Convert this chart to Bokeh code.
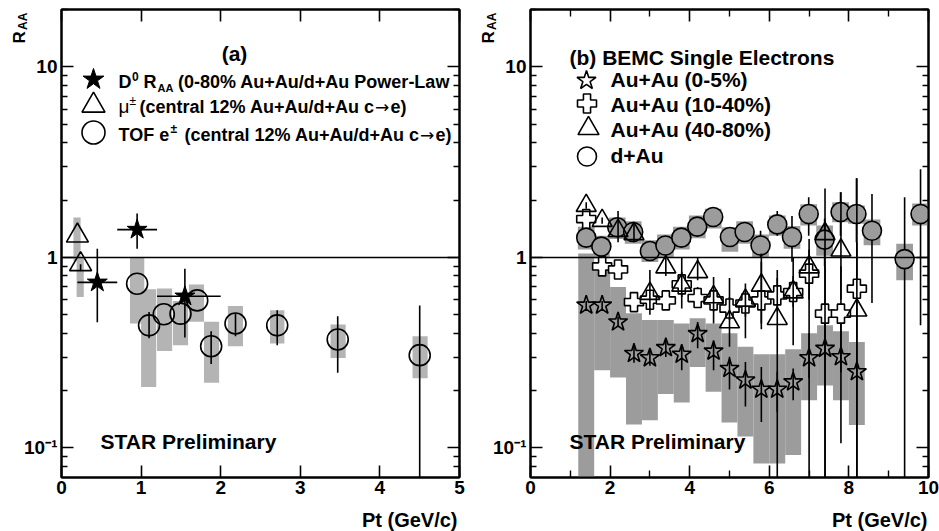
import math
from bokeh.plotting import figure
from bokeh.layouts import row
from bokeh.models import (Range1d, LogAxis, LinearAxis, FixedTicker, Span,
                          CustomJSTickFormatter)
from bokeh.core.properties import value
from bokeh.embed import file_html
from bokeh.resources import INLINE

FONT = "Liberation Sans"
SYM_FONT = "DejaVu Sans"

# ---------------- panel (a) data ----------------
d0_pt = [0.45, 0.95, 1.55]
d0_raa = [0.74, 1.40, 0.625]
d0_pt_lo = [0.20, 0.70, 1.20]
d0_pt_hi = [0.70, 1.20, 2.00]
d0_lo = [0.457, 1.11, 0.38]
d0_hi = [1.11, 1.70, 0.873]

mu_pt = [0.20, 0.24]
mu_raa = [1.30, 0.92]
mu_lo = [1.30, 0.86]
mu_hi = [1.30, 0.92]
mu_sys_left = [0.15, 0.19]
mu_sys_right = [0.24, 0.28]
mu_sys_lo = [0.96, 0.62]
mu_sys_hi = [1.62, 1.00]

tof_pt = [0.95, 1.10, 1.285, 1.495, 1.705, 1.88, 2.186, 2.71, 3.47, 4.50]
tof_raa = [0.728, 0.44, 0.503, 0.507, 0.595, 0.342, 0.45, 0.44, 0.371, 0.307]
tof_lo = [0.728, 0.377, 0.503, 0.507, 0.595, 0.276, 0.386, 0.346, 0.248, 0.01]
tof_hi = [0.728, 0.517, 0.503, 0.507, 0.595, 0.41, 0.507, 0.528, 0.491, 0.56]
tof_sys_left = [0.86, 1.00, 1.20, 1.40, 1.60, 1.79, 2.09, 2.62, 3.38, 4.41]
tof_sys_right = [1.04, 1.19, 1.39, 1.59, 1.79, 1.98, 2.28, 2.80, 3.57, 4.60]
tof_sys_lo = [0.45, 0.209, 0.323, 0.346, 0.46, 0.22, 0.342, 0.353, 0.297, 0.232]
tof_sys_hi = [1.00, 0.68, 0.686, 0.59, 0.72, 0.46, 0.556, 0.528, 0.444, 0.386]

# ---------------- panel (b) data ----------------
bemc_pt = [1.4, 1.8, 2.2, 2.6, 3.0, 3.4, 3.8, 4.2, 4.6, 5.0, 5.4, 5.8, 6.2, 6.6, 7.0, 7.4, 7.8, 8.2]

c05_raa = [0.561, 0.561, 0.458, 0.313, 0.297, 0.336, 0.31, 0.398, 0.322, 0.261, 0.227, 0.203,
           0.203, 0.222, 0.297, 0.333, 0.301, 0.251]
c05_lo = [0.53, 0.53, 0.43, 0.28, 0.27, 0.30, 0.256, 0.334, 0.256, 0.203, 0.165, 0.137,
          0.155, 0.178, 0.232, 0.01, 0.106, 0.01]
c05_hi = [0.59, 0.59, 0.49, 0.355, 0.33, 0.37, 0.346, 0.458, 0.368, 0.301, 0.283, 0.266,
          0.251, 0.261, 0.40, 0.50, 0.45, 0.40]
c05_sys_lo = [0.051, 0.256, 0.234, 0.133, 0.14, 0.192, 0.173, 0.266, 0.197, 0.136, 0.115, 0.083,
              0.083, 0.092, 0.178, 0.213, 0.178, 0.132]
c05_sys_hi = [1.05, 0.93, 0.70, 0.51, 0.47, 0.47, 0.45, 0.48, 0.45, 0.40, 0.34, 0.31,
              0.31, 0.33, 0.40, 0.44, 0.41, 0.36]

c1040_raa = [1.59, 0.897, 0.865, 0.583, 0.60, 0.595, 0.722, 0.612, 0.595, 0.539, 0.573, 0.595,
             0.632, 0.658, 0.822, 0.507, 0.507, 0.685]
c1040_lo = [1.5, 0.85, 0.78, 0.54, 0.55, 0.54, 0.62, 0.55, 0.52, 0.47, 0.49, 0.42,
            0.52, 0.55, 0.60, 0.30, 0.25, 0.40]
c1040_hi = [1.7, 0.95, 0.95, 0.63, 0.66, 0.66, 0.84, 0.70, 0.68, 0.62, 0.66, 0.95,
            0.78, 0.80, 1.10, 0.90, 0.90, 1.20]

c4080_raa = [1.87, 1.56, 1.38, 1.33, 0.646, 0.89, 0.714, 0.84, 0.62, 0.458, 0.595, 0.714,
             0.477, 0.658, 0.89, 1.33, 1.09, 0.528]
c4080_lo = [1.8, 1.5, 1.2, 1.2, 0.5, 0.8, 0.54, 0.76, 0.45, 0.34, 0.377, 0.45,
            0.01, 0.346, 0.01, 0.01, 0.6, 0.01]
c4080_hi = [1.95, 1.62, 1.75, 1.5, 0.86, 1.0, 1.0, 1.0, 0.79, 0.78, 0.73, 1.05,
            0.86, 1.0, 1.25, 2.3, 2.2, 2.6]

dau_pt = [1.40, 1.78, 2.18, 2.58, 3.00, 3.39, 3.79, 4.19, 4.59, 5.01, 5.38, 5.78, 6.20, 6.57,
          6.99, 7.39, 7.79, 8.19, 8.58, 9.40, 9.80]
dau_raa = [1.27, 1.14, 1.44, 1.36, 1.08, 1.155, 1.27, 1.45, 1.63, 1.28, 1.36, 1.155, 1.49, 1.28,
           1.69, 1.24, 1.73, 1.69, 1.38, 0.98, 1.69]
dau_lo = [1.22, 1.09, 1.35, 1.25, 1.02, 1.10, 1.21, 1.35, 1.55, 1.20, 1.27, 1.00, 1.30, 0.95,
          1.30, 0.90, 1.30, 1.20, 0.576, 0.01, 0.44]
dau_hi = [1.32, 1.19, 1.53, 1.48, 1.14, 1.21, 1.33, 1.56, 1.71, 1.37, 1.45, 1.38, 1.75, 1.65,
          2.07, 1.60, 2.20, 2.60, 2.15, 2.07, 2.90]
dau_sys_lo = [1.10, 0.99, 1.25, 1.18, 0.945, 1.00, 1.10, 1.26, 1.42, 1.07, 1.18, 1.00, 1.30, 1.11,
              1.47, 1.02, 1.53, 1.50, 1.16, 0.76, 1.47]
dau_sys_hi = [1.45, 1.30, 1.62, 1.55, 1.23, 1.32, 1.45, 1.66, 1.80, 1.44, 1.55, 1.32, 1.66, 1.46,
              1.90, 1.47, 1.95, 1.87, 1.58, 1.18, 1.92]

y_major = [0.1, 1, 10]
y_minor = [0.08, 0.09, 0.2, 0.3, 0.4, 0.5, 0.6, 0.7, 0.8, 0.9, 2, 3, 4, 5, 6, 7, 8, 9, 20]

# ---------------- layout constants ----------------
W_A, W_B, H = 469, 470, 531
BL, BT, BB = 61, 9, 54
FW = 398
Y0, Y1 = 0.07, 20.0
FRAME_H = H - BT - BB

GREY_A = "#b4b4b4"
GREY_B = "#9c9c9c"
LW = 1.6
BASE_SHIFT = 0.33  # empirical em-fraction correction for the text baseline

blank = CustomJSTickFormatter(code="return '';")
ylab = CustomJSTickFormatter(code="if (tick < 0.5) { return '10\u207b\u00b9'; } else if (tick < 5) { return '1'; } else { return '10'; }")


def style_axis(ax, major_len, minor_len, labels=True):
    ax.axis_line_width = 2
    ax.axis_line_color = "black"
    ax.major_tick_in = major_len
    ax.major_tick_out = 0
    ax.minor_tick_in = minor_len
    ax.minor_tick_out = 0
    ax.major_tick_line_width = 1.6
    ax.minor_tick_line_width = 1.4
    ax.major_tick_line_color = "black"
    ax.minor_tick_line_color = "black"
    ax.axis_label = None
    if labels:
        ax.major_label_text_font = FONT
        ax.major_label_text_font_style = "bold"
        ax.major_label_text_font_size = "19px"
        ax.major_label_text_color = "black"
    else:
        ax.formatter = blank
        ax.major_label_text_font_size = "1px"
        ax.major_label_standoff = 0


def make_fig(width, xmax, x_major, x_minor, right_border):
    p = figure(width=width, height=H, x_range=Range1d(0, xmax), y_range=Range1d(Y0, Y1),
               y_axis_type="log", output_backend="svg", toolbar_location=None,
               min_border_left=BL, min_border_right=right_border, min_border_top=BT,
               min_border_bottom=BB)
    p.xgrid.visible = False
    p.ygrid.visible = False
    p.outline_line_color = "black"
    p.outline_line_width = 2
    p.background_fill_color = "white"
    p.border_fill_color = "white"
    xt = FixedTicker(ticks=x_major, minor_ticks=x_minor)
    yt = FixedTicker(ticks=y_major, minor_ticks=y_minor)
    p.xaxis.ticker = xt
    p.yaxis.ticker = yt
    style_axis(p.xaxis[0], 12, 7)
    p.xaxis.major_label_standoff = 3
    style_axis(p.yaxis[0], 12, 6)
    p.yaxis.formatter = ylab
    p.yaxis.major_label_standoff = 4
    top = LinearAxis(ticker=xt)
    style_axis(top, 12, 7, labels=False)
    p.add_layout(top, "above")
    right = LogAxis(ticker=yt)
    style_axis(right, 12, 6, labels=False)
    p.add_layout(right, "right")
    p.add_layout(Span(location=1, dimension="width", line_color="black", line_width=1.5))
    return p


def to_data(fl, xmax, px, py):
    # convert a window pixel position (layout of texts / legend keys) to data coordinates
    x = (px - fl) / FW * xmax
    ly = math.log10(Y0) + ((BT + FRAME_H) - py) / FRAME_H * (math.log10(Y1) - math.log10(Y0))
    return x, 10 ** ly


def add_text(p, fl, xmax, px, py, s, size, align="left", bold=True, angle=0.0, font=FONT):
    # (px, py): wanted alphabetic-baseline anchor in window pixels
    if angle == 0.0:
        py = py - BASE_SHIFT * size
    else:
        px = px - BASE_SHIFT * size
    xd, yd = to_data(fl, xmax, px, py)
    r = p.text(x=[xd], y=[yd], text=[s], text_font=value(font), text_font_size=value(f"{size}px"),
               text_font_style=value("bold" if bold else "normal"), text_align=value(align),
               text_baseline=value("alphabetic"), angle=angle, text_color="black")
    r.level = "annotation"
    return r


# ======================= panel (a) =======================
pa = make_fig(W_A, 5, [0, 1, 2, 3, 4, 5], [], W_A - BL - FW)

pa.quad(left=mu_sys_left, right=mu_sys_right, bottom=mu_sys_lo, top=mu_sys_hi,
        fill_color=GREY_A, line_color=None)
pa.quad(left=tof_sys_left, right=tof_sys_right, bottom=tof_sys_lo, top=tof_sys_hi,
        fill_color=GREY_A, line_color=None)

pa.segment(x0=tof_pt, y0=tof_lo, x1=tof_pt, y1=tof_hi, line_color="black", line_width=LW)
pa.segment(x0=mu_pt, y0=mu_lo, x1=mu_pt, y1=mu_hi, line_color="black", line_width=LW)
pa.segment(x0=d0_pt, y0=d0_lo, x1=d0_pt, y1=d0_hi, line_color="black", line_width=LW)
pa.segment(x0=d0_pt_lo, y0=d0_raa, x1=d0_pt_hi, y1=d0_raa, line_color="black", line_width=LW)

pa.scatter(tof_pt, tof_raa, marker="circle", size=21, fill_alpha=0, line_color="black", line_width=LW)
pa.scatter(mu_pt, mu_raa, marker="triangle", size=22, fill_alpha=0, line_color="black", line_width=LW)
pa.scatter(d0_pt, d0_raa, marker="star", size=21, fill_color="black", line_color="black", line_width=1)

# legend (a)
lx, ly = to_data(BL, 5, 93, 79)
pa.scatter([lx], [ly], marker="star", size=22, fill_color="black", line_color="black")
lx, ly = to_data(BL, 5, 93, 105)
pa.scatter([lx], [ly], marker="triangle", size=23, fill_alpha=0, line_color="black", line_width=LW)
lx, ly = to_data(BL, 5, 93, 132)
pa.scatter([lx], [ly], marker="circle", size=23, fill_alpha=0, line_color="black", line_width=LW)

add_text(pa, BL, 5, 234, 60, "(a)", 21, align="center")
add_text(pa, BL, 5, 118, 87, "D", 18)
add_text(pa, BL, 5, 131.5, 80, "0", 12)
add_text(pa, BL, 5, 143, 87, "R", 18)
add_text(pa, BL, 5, 157, 91, "AA", 11)
add_text(pa, BL, 5, 177.5, 87, "(0-80% Au+Au/d+Au Power-Law", 18)
add_text(pa, BL, 5, 118, 112, "\u03bc", 19, bold=False)
add_text(pa, BL, 5, 129, 104, "\u00b1", 12, bold=False)
add_text(pa, BL, 5, 139, 112, "(central 12% Au+Au/d+Au c", 18)
add_text(pa, BL, 5, 374.5, 112, "\u2192", 17, bold=False, font=SYM_FONT)
add_text(pa, BL, 5, 390, 112, "e)", 18)
add_text(pa, BL, 5, 118, 140, "TOF e", 18)
add_text(pa, BL, 5, 170, 132, "\u00b1", 12)
add_text(pa, BL, 5, 184, 140, "(central 12% Au+Au/d+Au c", 18)
add_text(pa, BL, 5, 419.5, 140, "\u2192", 17, bold=False, font=SYM_FONT)
add_text(pa, BL, 5, 435, 140, "e)", 18)
add_text(pa, BL, 5, 100, 448, "STAR Preliminary", 21)
add_text(pa, BL, 5, 457, 526, "Pt (GeV/c)", 20, align="right")
add_text(pa, BL, 5, 24.5, 43, "R", 17, angle=math.pi / 2)
add_text(pa, BL, 5, 26, 29.5, "AA", 12, angle=math.pi / 2)

# ======================= panel (b) =======================
OX_B = W_A  # panel (b) figure starts here in the window
pb = make_fig(W_B, 10, [0, 2, 4, 6, 8, 10], [1, 3, 5, 7, 9], W_B - BL - FW)

band_hw = 0.2
box_hw = 0.21
pb.quad(left=[x - band_hw for x in bemc_pt], right=[x + band_hw for x in bemc_pt],
        bottom=c05_sys_lo, top=c05_sys_hi, fill_color=GREY_B, line_color=None)
pb.quad(left=[x - box_hw for x in dau_pt], right=[x + box_hw for x in dau_pt],
        bottom=dau_sys_lo, top=dau_sys_hi, fill_color=GREY_B, line_color=None)

pb.segment(x0=bemc_pt, y0=c05_lo, x1=bemc_pt, y1=c05_hi, line_color="black", line_width=LW)
pb.scatter(bemc_pt, c05_raa, marker="star", size=20, fill_alpha=0, line_color="black", line_width=LW)

pb.segment(x0=bemc_pt, y0=c1040_lo, x1=bemc_pt, y1=c1040_hi, line_color="black", line_width=LW)
pb.scatter(bemc_pt, c1040_raa, marker="plus", size=19, fill_color="white", line_color="black", line_width=LW)

pb.segment(x0=dau_pt, y0=dau_lo, x1=dau_pt, y1=dau_hi, line_color="black", line_width=LW)
pb.scatter(dau_pt, dau_raa, marker="circle", size=19, fill_color=GREY_B, line_color="black", line_width=LW)

pb.segment(x0=bemc_pt, y0=c4080_lo, x1=bemc_pt, y1=c4080_hi, line_color="black", line_width=LW)
pb.scatter(bemc_pt, c4080_raa, marker="triangle", size=20, fill_alpha=0, line_color="black", line_width=LW)

FLW = OX_B + BL  # window x of panel (b) frame left
# legend (b)
lx, ly = to_data(FLW, 10, 586, 80)
pb.scatter([lx], [ly], marker="star", size=20, fill_alpha=0, line_color="black", line_width=LW)
lx, ly = to_data(FLW, 10, 586.5, 103)
pb.scatter([lx], [ly], marker="plus", size=19, fill_color="white", line_color="black", line_width=LW)
lx, ly = to_data(FLW, 10, 588, 128)
pb.scatter([lx], [ly], marker="triangle", size=21, fill_alpha=0, line_color="black", line_width=LW)
lx, ly = to_data(FLW, 10, 586.5, 156)
pb.scatter([lx], [ly], marker="circle", size=19, fill_color="white", line_color="black", line_width=LW)

add_text(pb, FLW, 10, 569, 64, "(b) BEMC Single Electrons", 21)
add_text(pb, FLW, 10, 610, 86, "Au+Au (0-5%)", 21)
add_text(pb, FLW, 10, 610, 111, "Au+Au (10-40%)", 21)
add_text(pb, FLW, 10, 610, 136, "Au+Au (40-80%)", 21)
add_text(pb, FLW, 10, 610, 162, "d+Au", 21)
add_text(pb, FLW, 10, 569, 448, "STAR Preliminary", 21)
add_text(pb, FLW, 10, 927, 526, "Pt (GeV/c)", 20, align="right")
add_text(pb, FLW, 10, 493.5, 43, "R", 17, angle=math.pi / 2)
add_text(pb, FLW, 10, 495, 29.5, "AA", 12, angle=math.pi / 2)

layout = row(pa, pb)
open("out.html", "w").write(file_html(layout, INLINE))
